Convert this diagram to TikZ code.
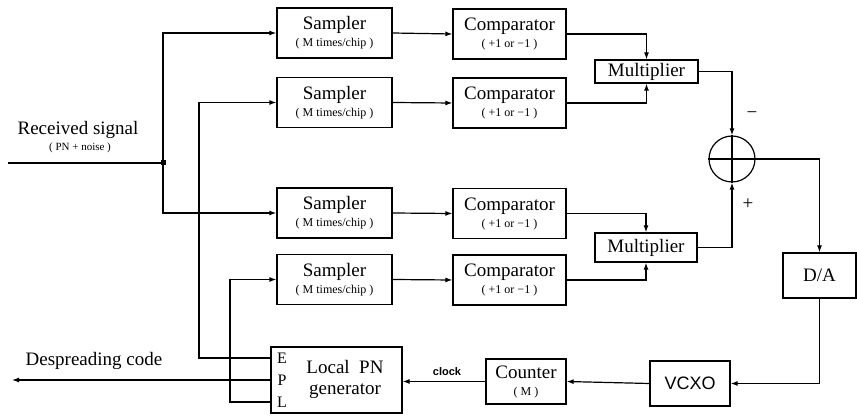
\documentclass[tikz,border=0pt]{standalone}
\usepackage{fontspec}
\setmainfont{Liberation Serif}
\newfontfamily\sansf{Liberation Sans}
\usetikzlibrary{arrows.meta,calc}
\begin{document}
\begin{tikzpicture}[x=1pt,y=-1pt, line width=1.2pt,
  box/.style={draw, line width=1.2pt, inner sep=0pt, align=center, font=\fontsize{19}{17}\selectfont},
  smp/.style={box, minimum width=115pt, minimum height=50pt},
  cmp/.style={box, minimum width=113pt, minimum height=50pt},
  arr/.style={-{Latex[length=7pt,width=5pt]}},
  big/.style={font=\fontsize{19}{20}\selectfont, inner sep=0pt},
  sub/.style={font=\fontsize{12}{12}\selectfont, inner sep=0pt},
  port/.style={font=\fontsize{16}{16}\selectfont, inner sep=0pt},
]
\newcommand{\subl}[1]{{\fontsize{12}{12}\selectfont #1}}
\useasboundingbox (0,0) rectangle (857,419);

% samplers
\node[smp] (S1) at (334.5,33) {Sampler\\ \subl{( M times/chip )}};
\node[smp] (S2) at (334.5,102.5) {Sampler\\ \subl{( M times/chip )}};
\node[smp] (S3) at (334.5,213) {Sampler\\ \subl{( M times/chip )}};
\node[smp] (S4) at (334.5,279.5) {Sampler\\ \subl{( M times/chip )}};
% comparators
\node[cmp] (C1) at (509.5,34) {Comparator\\ \subl{( +1 or −1 )}};
\node[cmp] (C2) at (509.5,103) {Comparator\\ \subl{( +1 or −1 )}};
\node[cmp] (C3) at (509.5,213.5) {Comparator\\ \subl{( +1 or −1 )}};
\node[cmp] (C4) at (509.5,280) {Comparator\\ \subl{( +1 or −1 )}};
% multipliers
\node[box, minimum width=103pt, minimum height=23pt] (M1) at (646.5,71.5) {Multiplier};
\node[box, minimum width=102pt, minimum height=29pt] (M2) at (646,247.5) {Multiplier};
% summer
\node[draw, circle, minimum size=46pt, inner sep=0pt] (SUM) at (732,159) {};
\draw (SUM.west) -- (SUM.east);
\draw (SUM.north) -- (SUM.south);
\node[big] (minus) at (752,115) {−};
\node[big] (plus) at (748,204) {+};
% D/A, VCXO, Counter
\node[box, minimum width=73pt, minimum height=45pt] (DA) at (819.5,275.5) {D/A};
\node[box, minimum width=80pt, minimum height=45pt, font=\sansf\fontsize{18}{18}\selectfont] (VCXO) at (690,383.5) {VCXO};
\node[box, minimum width=80pt, minimum height=45pt] (CNT) at (526,381.5) {Counter\\ \subl{( M )}};
% Local PN generator
\node[box, minimum width=131pt, minimum height=66pt] (PN) at (336.5,380)
  {\hspace*{17pt}\fontsize{19}{21}\selectfont\begin{tabular}{@{}c@{}}Local\ \ PN\\generator\end{tabular}};
\node[port, anchor=center] (LE) at (282,358) {E};
\node[port, anchor=center] (LP) at (282,380) {P};
\node[port, anchor=center] (LL) at (282,402) {L};
\coordinate (pE) at (PN.west |- LE);
\coordinate (pP) at (PN.west |- LP);
\coordinate (pL) at (PN.west |- LL);

% labels
\node[big] (rs) at (78,130) {Received signal};
\node[sub, font=\fontsize{11}{11}\selectfont] (rsn) at (80,148) {( PN + noise )};
\node[big] (dc) at (94,361) {Despreading code};
\node[inner sep=0pt, font=\sansf\bfseries\fontsize{11}{11}\selectfont] (clk) at (447,372) {clock};

% input
\coordinate (in) at (8,163);
\coordinate (J) at (163,163);
\draw (in) -- (J);
\fill (J) +(-2.5,-2.5) rectangle +(2.5,2.5);
\draw[arr] (J) |- (S1.west);
\draw[arr] (J) |- (S3.west);

% sampler -> comparator
\foreach \i in {1,2,3,4} \draw[arr] (S\i.east) -- (C\i.west);

% comparator -> multiplier
\draw[arr] (C1.east) -| (M1.north);
\draw[arr] (C2.east) -| (M1.south);
\draw[arr] (C3.east) -| (M2.north);
\draw[arr] (C4.east) -| (M2.south);

% multiplier -> summer
\draw[arr] (M1.east) -| (SUM.north);
\draw[arr] (M2.east) -| (SUM.south);

% summer -> D/A -> VCXO -> counter -> PN
\draw[arr] (SUM.east) -| (DA.north);
\draw[arr] (DA.south) |- (VCXO.east);
\draw[arr] (VCXO.west) -- (CNT.east);
\draw[arr] (CNT.west) -- (CNT.west -| PN.east);

% PN outputs
\draw[arr] (pE) -- (199,358) |- (S2.west);
\coordinate (dout) at (12,380);
\draw[arr] (pP) -- (dout);
\draw[arr] (pL) -- (230,402) |- (S4.west);
\end{tikzpicture}
\end{document}
